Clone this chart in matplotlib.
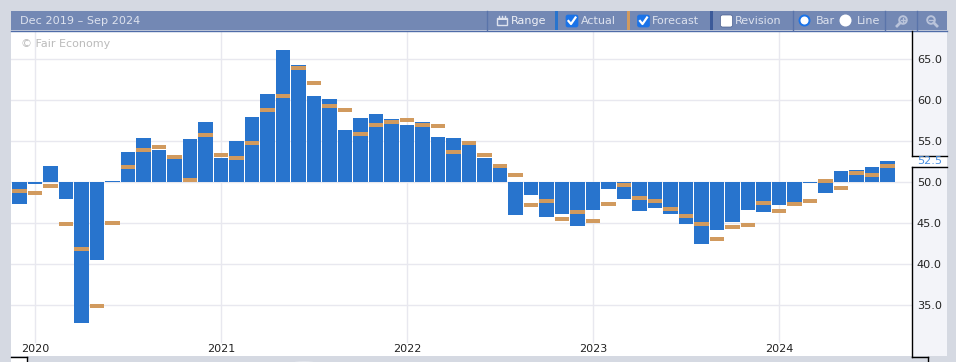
import matplotlib
matplotlib.use("Agg")
import matplotlib.pyplot as plt
from matplotlib.patches import Rectangle, Circle, FancyBboxPatch, Ellipse
from matplotlib.lines import Line2D

plt.rcParams['font.family'] = ['DejaVu Sans']

months = ["2019-12",
  "2020-01","2020-02","2020-03","2020-04","2020-05","2020-06","2020-07","2020-08","2020-09","2020-10","2020-11","2020-12",
  "2021-01","2021-02","2021-03","2021-04","2021-05","2021-06","2021-07","2021-08","2021-09","2021-10","2021-11","2021-12",
  "2022-01","2022-02","2022-03","2022-04","2022-05","2022-06","2022-07","2022-08","2022-09","2022-10","2022-11","2022-12",
  "2023-01","2023-02","2023-03","2023-04","2023-05","2023-06","2023-07","2023-08","2023-09","2023-10","2023-11","2023-12",
  "2024-01","2024-02","2024-03","2024-04","2024-05","2024-06","2024-07","2024-08"]
actual = [47.4,
  49.8,52.0,48.0,32.9,40.5,50.1,53.7,55.4,53.9,52.8,55.3,57.3,
  53.0,55.0,58.0,60.8,66.1,64.3,60.5,60.2,56.4,57.8,58.3,57.7,
  57.0,57.3,55.5,55.4,54.5,53.0,51.8,46.0,48.4,45.8,46.1,44.7,
  46.6,49.2,48.0,46.5,46.9,46.1,44.9,42.5,44.2,45.2,46.6,46.4,
  47.2,47.3,49.9,48.7,51.4,51.5,51.9,52.6]
forecast = [48.9,
  48.7,49.5,44.9,41.9,34.9,45.0,51.9,53.9,54.3,53.1,50.3,55.8,
  53.3,53.0,54.8,58.8,60.5,63.9,62.1,59.3,58.8,55.9,57.0,57.4,
  57.6,57.0,56.9,53.7,54.8,53.3,52.0,50.9,47.2,47.7,45.5,46.4,
  45.3,47.4,49.7,48.1,47.7,46.7,45.9,44.9,43.1,44.5,44.8,47.5,
  46.5,47.4,47.7,50.2,49.3,51.1,50.9,52.0]
year_labels = ["2020","2021","2022","2023","2024"]
year_positions = [months.index(y + "-01") for y in year_labels]
y_ticks = [35, 40, 45, 50, 55, 60, 65]
last_label = "52.5"
baseline = 50
forecast_thickness = 0.5

W, H = 956, 362
BG = "#d5d9e2"; HEAD = "#7388b4"; TXT = "#dde2ee"; BLUE = "#2874cd"; ORANGE = "#d19a5e"; GRID = "#e8e8ef"
ICON = "#b9c3da"

fig = plt.figure(figsize=(W/100, H/100), dpi=100, facecolor=BG)

def box(l, t, r, b):
    return [l/W, 1-b/H, (r-l)/W, (b-t)/H]

# Plot panel
ax = fig.add_axes(box(11, 31, 912, 356), facecolor="white", zorder=2)
px_unit = 8.2; zero_y = 182.3; px_month = 15.5; first_x = 19.5
ax.set_ylim(50-(356-zero_y)/px_unit, 50+(zero_y-31)/px_unit)
ax.set_xlim((11-first_x)/px_month, (912-first_x)/px_month)
for s in ax.spines.values():
    s.set_visible(False)
ax.set_axisbelow(True)
ax.grid(True, color=GRID, linewidth=1.0)
ax.set_xticks(year_positions, year_labels)
ax.set_yticks(y_ticks, [f"{v:.1f}" for v in y_ticks])
ax.yaxis.tick_right()
ax.tick_params(axis='x', length=0, pad=-8.7, labelsize=8, labelcolor="#222222")
ax.tick_params(axis='y', length=0, pad=3.5, labelsize=8.1, labelcolor="#222222")

# Vertical gridlines stop above the band holding the year labels
for tick in ax.xaxis.get_major_ticks():
    tick.gridline.set_ydata([14/325, 1])

xs = list(range(len(months)))
heights = [a - baseline for a in actual]
ax.bar(xs, heights, bottom=baseline, width=0.93, color=BLUE, linewidth=0, zorder=3)
ax.bar(xs, [forecast_thickness]*len(xs), bottom=[f-forecast_thickness/2 for f in forecast],
       width=0.93, color=ORANGE, linewidth=0, zorder=4)

# Chrome overlay in pixel coordinates
ov = fig.add_axes([0, 0, 1, 1], zorder=1, facecolor="none")
ov.set_xlim(0, W); ov.set_ylim(H, 0); ov.axis("off")
ov.add_patch(Rectangle((912, 31), 35, 325, fc="#f3f4f9", ec="none"))

top = fig.add_axes([0, 0, 1, 1], zorder=5, facecolor="none")
top.set_xlim(0, W); top.set_ylim(H, 0); top.axis("off")
top.add_patch(Rectangle((11, 11), 936, 19, fc=HEAD, ec="none"))
top.add_line(Line2D([11, 947], [30.5, 30.5], color="#4f6ca8", lw=1))
top.text(20, 21, "Dec 2019 – Sep 2024", color=TXT, fontsize=8.15, va="center", ha="left")
top.text(21, 44, "© Fair Economy", color="#bbbbbb", fontsize=8, va="center", ha="left")

for x in [487, 793, 885, 917]:
    top.add_line(Line2D([x, x], [11, 30], color="#5a74aa", lw=1))
for x, c in [(557, BLUE), (628.5, ORANGE), (711.5, "#3c5a99")]:
    top.add_patch(Rectangle((x-1.5, 11), 3, 19, fc=c, ec="none"))

# Calendar icon
top.add_patch(Rectangle((497, 17.5), 10, 7.5, fc="none", ec=TXT, lw=1))
top.add_patch(Rectangle((497, 17.5), 10, 2.5, fc=TXT, ec="none"))
for x in [499, 502, 505]:
    top.add_line(Line2D([x, x], [15.5, 17.5], color=TXT, lw=1))
top.text(511, 21, "Range", color="#eef0f6", fontsize=8, va="center", ha="left")

def check(x0, on):
    fc = "#1a73e8" if on else "white"
    top.add_patch(FancyBboxPatch((x0+1, 16), 10, 10, boxstyle="round,pad=1,rounding_size=2",
                                 fc=fc, ec="#4a5f8f" if not on else fc, lw=0.5))
    if on:
        top.plot([x0+2.5, x0+5, x0+9.5], [21, 24, 17.5], color="white", lw=1.6)

check(566, True); top.text(581, 21, "Actual", color=TXT, fontsize=8, va="center")
check(637.5, True); top.text(652, 21, "Forecast", color=TXT, fontsize=8, va="center")
check(720.5, False); top.text(735, 21, "Revision", color=TXT, fontsize=8, va="center")

top.add_patch(Circle((804.5, 20.5), 5, fc="white", ec="#1a73e8", lw=1.4))
top.text(816, 21, "Bar", color=TXT, fontsize=8, va="center")
top.add_patch(Circle((845.5, 20.5), 6, fc="white", ec="none"))
top.text(857, 21, "Line", color=TXT, fontsize=8, va="center")

# Zoom in / zoom out icons
top.add_patch(Circle((903, 20), 3.8, fc="none", ec=ICON, lw=1.4))
top.add_line(Line2D([900, 897], [23, 26], color=ICON, lw=2))
top.add_line(Line2D([901, 905], [20, 20], color=ICON, lw=1))
top.add_line(Line2D([903, 903], [18, 22], color=ICON, lw=1))
top.add_patch(Circle((931, 20), 3.8, fc="none", ec=ICON, lw=1.4))
top.add_line(Line2D([934, 937], [23, 26], color=ICON, lw=2))
top.add_line(Line2D([929, 933], [20, 20], color=ICON, lw=1))

# Right axis frame with current value label
k = "black"
top.add_patch(Rectangle((912.5, 156), 34.5, 10, fc="white", ec="none"))
top.add_line(Line2D([912, 912], [31, 155.5], color=k, lw=1))
top.add_line(Line2D([912, 947], [155.5, 155.5], color=k, lw=1))
top.add_line(Line2D([912, 947], [166.5, 166.5], color=k, lw=1))
top.add_line(Line2D([912, 912], [166.5, 356.5], color=k, lw=1))
top.add_line(Line2D([912, 928.5], [356.5, 356.5], color=k, lw=1))
top.add_line(Line2D([928.5, 928.5], [356.5, 362], color=k, lw=1))
top.text(929.5, 161, last_label, color="#4a90e2", fontsize=8.1, va="center", ha="center")

# Bottom strip and range selector handle
top.add_patch(Rectangle((11, 356), 901, 6, fc=BG, ec="none"))
top.add_patch(Rectangle((11, 357), 16, 5, fc="white", ec="none"))
top.add_line(Line2D([11, 27.5], [356.5, 356.5], color=k, lw=1))
top.add_line(Line2D([27.5, 27.5], [356.5, 362], color=k, lw=1))
top.add_patch(Ellipse((304, 362.5), 22, 2, fc="#eef0f5", ec="none"))

fig.savefig("out.png", dpi=100, facecolor=BG)
